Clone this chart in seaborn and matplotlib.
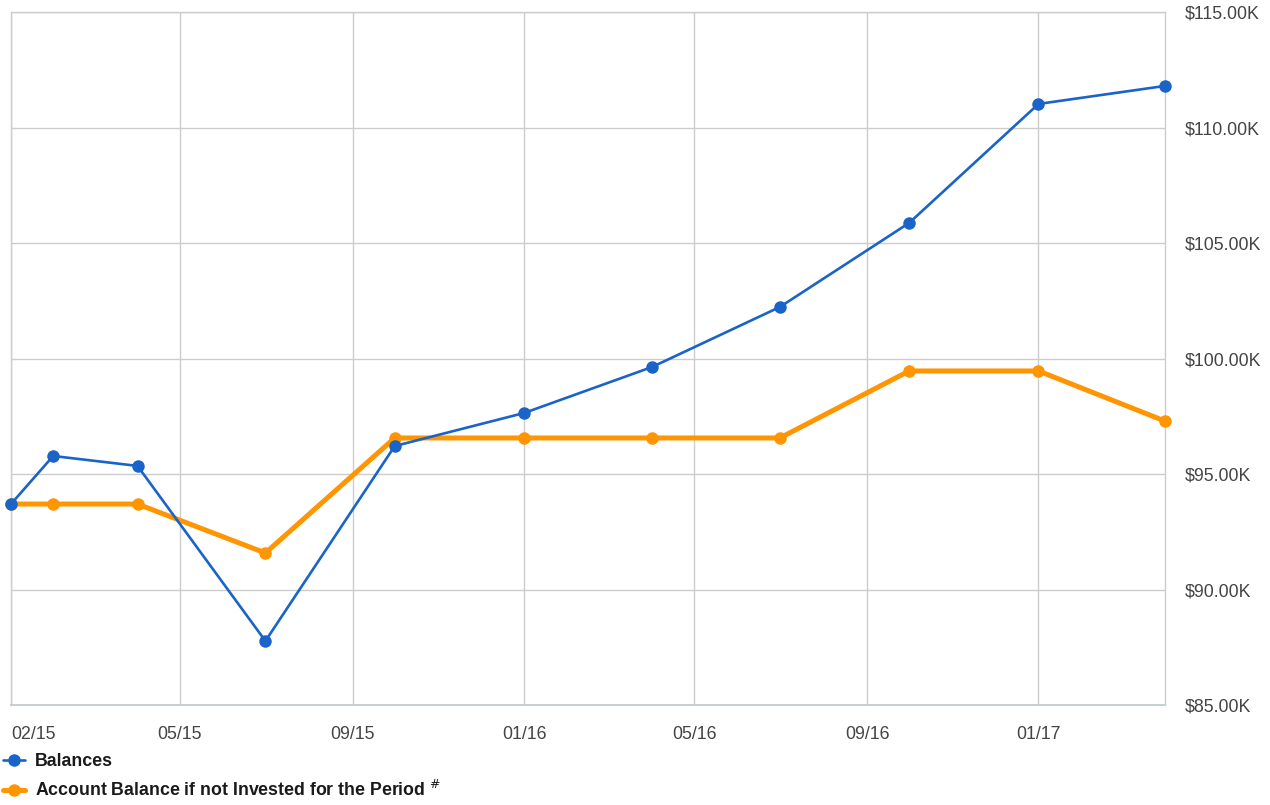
import matplotlib
matplotlib.use("Agg")
import matplotlib.pyplot as plt
import seaborn as sns
import pandas as pd

# Statement dates and balances (in $K)
dates = ["2015-01-01", "2015-01-31", "2015-04-01", "2015-07-01", "2015-10-01",
         "2016-01-01", "2016-04-01", "2016-07-01", "2016-10-01", "2017-01-01",
         "2017-04-01"]
balances = [93.70, 95.78, 95.35, 87.77, 96.21, 97.64, 99.63, 102.23, 105.87,
            111.02, 111.80]
not_invested = [93.70, 93.70, 93.70, 91.58, 96.56, 96.56, 96.56, 96.56, 99.46,
                99.46, 97.29]

x_tick_dates = ["2015-01-01", "2015-05-01", "2015-09-01", "2016-01-01",
                "2016-05-01", "2016-09-01", "2017-01-01"]
x_tick_labels = ["02/15", "05/15", "09/15", "01/16", "05/16", "09/16", "01/17"]
y_ticks = [85, 90, 95, 100, 105, 110, 115]

blue = "#1a63c9"
orange = "#ff9500"
grid = "#cccccc"
text_color = "#444444"

df = pd.DataFrame({
    "date": pd.to_datetime(dates),
    "Balances": balances,
    "Account Balance if not Invested for the Period": not_invested,
})

sns.set_style("white")
plt.rcParams["font.family"] = ["Liberation Sans", "DejaVu Sans"]

fig = plt.figure(figsize=(12.7, 8.05), dpi=100)
ax = fig.add_axes([11 / 1270, 1 - 705 / 805, (1165 - 11) / 1270, (705 - 12) / 805])

sns.lineplot(data=df, x="date", y="Account Balance if not Invested for the Period",
             ax=ax, color=orange, linewidth=3.6, marker="o", markersize=9,
             markeredgewidth=0, label="Account Balance if not Invested for the Period $^{\\#}$",
             zorder=3, clip_on=False)
sns.lineplot(data=df, x="date", y="Balances", ax=ax, color=blue, linewidth=1.9,
             marker="o", markersize=9, markeredgewidth=0, label="Balances", zorder=4,
             clip_on=False)

ax.set_xlim(df["date"].iloc[0], df["date"].iloc[-1])
ax.set_ylim(85, 115)

ax.set_xticks(pd.to_datetime(x_tick_dates))
ax.set_xticklabels(x_tick_labels)
ax.set_yticks(y_ticks)
ax.set_yticklabels([f"${v:.2f}K" for v in y_ticks])
ax.yaxis.tick_right()

ax.tick_params(axis="x", length=0, pad=15, labelsize=12.8, labelcolor=text_color)
ax.tick_params(axis="y", length=0, pad=14, labelsize=12.8, labelcolor=text_color)
labels = ax.get_xticklabels()
labels[0].set_horizontalalignment("left")

ax.grid(True, color=grid, linewidth=1)
ax.set_axisbelow(True)
for side in ["left", "right", "top"]:
    ax.spines[side].set_color(grid)
    ax.spines[side].set_linewidth(1)
ax.spines["bottom"].set_color("#c3cad3")
ax.spines["bottom"].set_linewidth(1.3)

ax.set_xlabel("")
ax.set_ylabel("")

handles, lbls = ax.get_legend_handles_labels()
order = [1, 0]
leg = ax.legend([handles[i] for i in order], [lbls[i] for i in order],
                loc="upper left", bbox_to_anchor=(3 / 1270, 1 - 753 / 805),
                bbox_transform=fig.transFigure, frameon=False,
                handlelength=1.25, handletextpad=0.55, labelspacing=0.58,
                prop={"weight": "bold", "size": 12.8}, borderaxespad=0, borderpad=0)
for t in leg.get_texts():
    t.set_color("#1a1a1a")

fig.savefig("out.png", dpi=100)
